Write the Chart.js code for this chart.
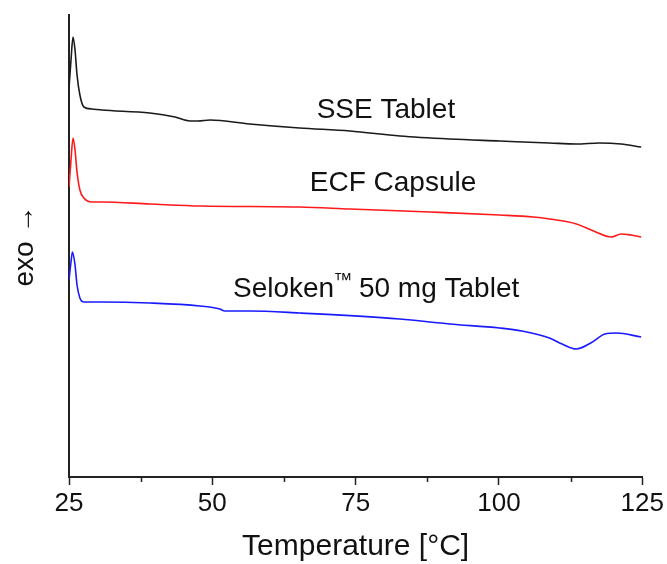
<!DOCTYPE html>
<html>
<head>
<meta charset="utf-8">
<script src="https://cdn.jsdelivr.net/npm/chart.js@4.4.1/dist/chart.umd.min.js"></script>
<style>
  html, body { margin: 0; padding: 0; background: #fff; }
  #wrap { width: 667px; height: 564px; }
</style>
</head>
<body>
<div id="wrap"><canvas id="dsc"></canvas></div>
<script>
// temperature [°C] and heat flow (arbitrary units, exo up)
var sseT = [25.0, 25.35, 25.7, 26.05, 26.4, 26.9, 27.6, 29.0, 30.7, 39.1, 43.5, 46.1, 47.5, 49.6, 56.5, 65.2, 74.0, 82.7, 91.4, 100.1, 108.8, 113.5, 117.5, 121.3, 124.8];
var sseY = [389, 417, 440, 427, 402, 382, 370, 368, 367, 364, 360, 356, 356, 357, 353, 349, 346, 341, 338, 336, 334, 333, 334, 333, 330];

var ecfT = [25.0, 25.35, 25.7, 26.05, 26.4, 26.9, 27.6, 29.0, 30.7, 39.1, 48.0, 65.2, 74.0, 88.0, 100.1, 106.0, 108.8, 113.5, 116.5, 119.6, 121.3, 123.0, 124.8];
var ecfY = [290, 317, 339, 327, 305, 287, 279, 275, 275, 273, 271, 270, 268, 265, 262, 260, 258, 253, 246, 240, 243, 242, 240];

var selT = [25.0, 25.35, 25.6, 26.05, 26.4, 26.9, 27.6, 30.7, 39.1, 47.8, 51.3, 52.2, 56.5, 65.2, 82.7, 91.4, 100.1, 104.0, 108.8, 111.0, 113.5, 116.0, 118.5, 120.5, 124.8];
var selY = [197, 215, 225, 212, 192, 179, 175, 175, 174, 171, 168, 166, 166, 164, 158, 153, 149, 146, 139, 133, 128, 134, 143, 144, 140];

var xTicks = [25, 50, 75, 100, 125];
var minorTicks = [37.5, 62.5, 87.5, 112.5];

function toPoints(xs, ys) {
  return xs.map(function (x, i) { return { x: x, y: ys[i] }; });
}

var FONT = "'Liberation Sans', Arial, sans-serif";

// curve labels, anchored in data coordinates
var curveLabels = [
  { text: 'SSE Tablet', x: 68.2, y: 359 },
  { text: 'ECF Capsule', x: 67.0, y: 286 },
  { text: 'Seloken', sup: '\u2122', rest: ' 50 mg Tablet', x: 53.6, y: 180 }
];

var labelPlugin = {
  id: 'curveLabels',
  afterDraw: function (chart) {
    var ctx = chart.ctx;
    var xs = chart.scales.x, ys = chart.scales.y;
    ctx.save();
    ctx.fillStyle = '#111';
    ctx.textAlign = 'left';
    ctx.textBaseline = 'alphabetic';
    curveLabels.forEach(function (l) {
      var px = xs.getPixelForValue(l.x);
      var py = ys.getPixelForValue(l.y);
      ctx.font = '28px ' + FONT;
      ctx.fillText(l.text, px, py);
      if (l.sup) {
        var w = ctx.measureText(l.text).width;
        ctx.font = '19px ' + FONT;
        ctx.fillText(l.sup, px + w - 1, py - 11);
        var w2 = ctx.measureText(l.sup).width;
        ctx.font = '28px ' + FONT;
        ctx.fillText(l.rest, px + w + w2 - 2, py);
      }
    });
    // minor ticks on x axis
    ctx.strokeStyle = '#222';
    ctx.lineWidth = 1.5;
    minorTicks.forEach(function (v) {
      var px = Math.round(xs.getPixelForValue(v)) + 0.5;
      ctx.beginPath();
      ctx.moveTo(px, chart.chartArea.bottom);
      ctx.lineTo(px, chart.chartArea.bottom + 5);
      ctx.stroke();
    });
    ctx.restore();
  }
};

var ctx = document.getElementById('dsc').getContext('2d');
new Chart(ctx, {
  type: 'line',
  data: {
    datasets: [
      { label: 'SSE Tablet', data: toPoints(sseT, sseY), borderColor: '#1a1a1a', borderWidth: 1.6 },
      { label: 'ECF Capsule', data: toPoints(ecfT, ecfY), borderColor: '#ff1a1a', borderWidth: 1.6 },
      { label: 'Seloken 50 mg Tablet', data: toPoints(selT, selY), borderColor: '#1a1aff', borderWidth: 1.6 }
    ]
  },
  options: {
    responsive: true,
    maintainAspectRatio: false,
    animation: false,
    layout: { padding: { top: 15, right: 24, left: 0, bottom: 0 } },
    elements: {
      point: { radius: 0 },
      line: { cubicInterpolationMode: 'monotone', fill: false }
    },
    plugins: {
      legend: { display: false },
      tooltip: { enabled: false }
    },
    scales: {
      x: {
        type: 'linear',
        min: 25,
        max: 125,
        afterBuildTicks: function (scale) {
          scale.ticks = xTicks.map(function (v) { return { value: v }; });
        },
        afterFit: function (scale) { scale.height = 87; },
        border: { display: true, color: '#222', width: 2 },
        grid: { drawOnChartArea: false, drawTicks: true, tickLength: 8, tickColor: '#222', tickWidth: 1.5 },
        ticks: {
          padding: 3,
          color: '#111',
          font: { family: FONT, size: 26 },
          maxRotation: 0,
          callback: function (v) { return v; }
        },
        title: {
          display: true,
          text: 'Temperature [\u00B0C]',
          color: '#111',
          font: { family: FONT, size: 30 },
          padding: { top: 0, bottom: -1 }
        }
      },
      y: {
        type: 'linear',
        min: 0,
        max: 462,
        afterFit: function (scale) { scale.width = 69; },
        border: { display: true, color: '#222', width: 2 },
        grid: { display: false },
        ticks: { display: false },
        title: {
          display: true,
          text: 'exo \u2192',
          color: '#111',
          font: { family: FONT, size: 28 },
          padding: { top: 8, bottom: 0 }
        }
      }
    }
  },
  plugins: [labelPlugin]
});
</script>
</body>
</html>
